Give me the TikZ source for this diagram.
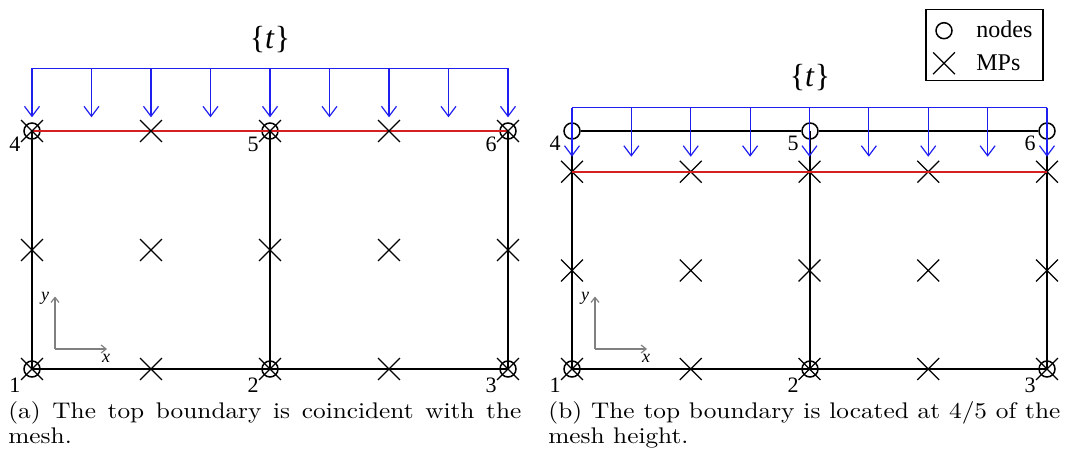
\documentclass[tikz,border=0pt]{standalone}
\usepackage{fontspec}
\usepackage{tikz}
\usepackage{xcolor}
\usetikzlibrary{arrows.meta, positioning, shapes.misc}
\newfontfamily\timesfont{Liberation Serif}
\newfontfamily\capfont{lmroman10-regular.otf}[FakeStretch=1.12]
\definecolor{LoadBlue}{HTML}{1E1EF0}
\definecolor{BoundRed}{HTML}{D42020}
\definecolor{AxisGray}{HTML}{808080}

\begin{document}
\begin{tikzpicture}[
    x=0.5pt, y=-0.5pt,
    meshnode/.style={circle, draw=black, line width=0.75pt, minimum size=8pt, inner sep=0pt},
    mp/.style={cross out, draw=black, line width=0.6pt, minimum size=10.3pt, inner sep=0pt},
    edge/.style={draw=black, line width=0.75pt},
    topline/.style={draw=BoundRed, line width=1.1pt},
    load/.style={draw=LoadBlue, line width=0.6pt},
    loadarrow/.style={load, -{Straight Barb[length=5pt, width=7.5pt]}},
    axis/.style={draw=AxisGray, line width=0.6pt, -{Straight Barb[length=2.5pt, width=4pt]}},
    num/.style={font=\timesfont\fontsize{11}{12}\selectfont, inner sep=0pt},
    axlbl/.style={font=\timesfont\itshape\fontsize{9}{10}\selectfont, inner sep=0pt},
    tlbl/.style={font=\timesfont\fontsize{16}{18}\selectfont, inner sep=0pt},
    legtext/.style={font=\timesfont\fontsize{12}{14}\selectfont, inner sep=0pt, anchor=west},
    caption/.style={font=\capfont\fontsize{11.3}{12.5}\selectfont, text width=256.5pt, align=justify, inner sep=0pt, anchor=north west}
]
\useasboundingbox (0,0) rectangle (1065,460);

% (a)
\node[meshnode] (a1) at (32,369) {};
\node[meshnode] (a2) at (270,369) {};
\node[meshnode] (a3) at (508,369) {};
\node[meshnode] (a4) at (32,131) {};
\node[meshnode] (a5) at (270,131) {};
\node[meshnode] (a6) at (508,131) {};
\draw[edge] (a1.center) -- (a2.center) -- (a3.center) -- (a6.center);
\draw[edge] (a1.center) -- (a4.center);
\draw[edge] (a2.center) -- (a5.center);
\draw[topline] (a4.center) -- (a5.center) -- (a6.center);
\foreach \i in {0,...,4}
  \foreach \j/\y in {1/369,2/250,3/131}
    \node[mp] (amp\i\j) at (32+119*\i,\y) {};
\foreach \i in {0,...,8} {
  \coordinate (at\i) at (32+59.5*\i,68.3);
  \coordinate (ab\i) at (32+59.5*\i,117.3);
  \draw[loadarrow] (at\i) -- (ab\i);
}
\draw[load] (at0) -- (at8);
\node[tlbl] (at) at (270,40) {\{\textit{t}\}};
\node[num] (anum1) at (15,385) {1};
\node[num] (anum2) at (253,385) {2};
\node[num] (anum3) at (491,385) {3};
\node[num] (anum4) at (15,144) {4};
\node[num] (anum5) at (253,144) {5};
\node[num] (anum6) at (491,144) {6};
\coordinate (ao) at (55,349);
\coordinate (ax) at (107,349);
\coordinate (ay) at (55,296.5);
\draw[axis] (ao) -- (ax);
\draw[axis] (ao) -- (ay);
\node[axlbl] (axl) at (106,358) {x};
\node[axlbl] (ayl) at (45,298) {y};
\node[caption] (capa) at (8,401) {(a) The top boundary is coincident with the\linebreak mesh.};

% (b)
\node[meshnode] (b1) at (572,369) {};
\node[meshnode] (b2) at (810,369) {};
\node[meshnode] (b3) at (1047,369) {};
\node[meshnode] (b4) at (572,131) {};
\node[meshnode] (b5) at (810,131) {};
\node[meshnode] (b6) at (1047,131) {};
\draw[edge] (b1.center) -- (b2.center) -- (b3.center) -- (b6.center);
\draw[edge] (b1.center) -- (b4.center);
\draw[edge] (b2.center) -- (b5.center);
\draw[edge] (b4) -- (b5) -- (b6);
\foreach \i in {0,...,4}
  \foreach \j/\y in {1/369,2/270.5,3/171.7}
    \node[mp] (bmp\i\j) at (572+118.75*\i,\y) {};
\draw[topline] (bmp03.center) -- (bmp43.center);
\foreach \i in {0,...,8} {
  \coordinate (bt\i) at (572+59.375*\i,107.7);
  \coordinate (bb\i) at (572+59.375*\i,156.7);
  \draw[loadarrow] (bt\i) -- (bb\i);
}
\draw[load] (bt0) -- (bt8);
\node[tlbl] (bt) at (810,78) {\{\textit{t}\}};
\node[num] (bnum1) at (555,385) {1};
\node[num] (bnum2) at (793,385) {2};
\node[num] (bnum3) at (1030,385) {3};
\node[num] (bnum4) at (555,143) {4};
\node[num] (bnum5) at (793,143) {5};
\node[num] (bnum6) at (1030,143) {6};
\coordinate (bo) at (595,349);
\coordinate (bx) at (647,349);
\coordinate (by) at (595,296.5);
\draw[axis] (bo) -- (bx);
\draw[axis] (bo) -- (by);
\node[axlbl] (bxl) at (646,358) {x};
\node[axlbl] (byl) at (585,298) {y};
\node[caption, text width=256pt] (capb) at (548,401) {(b) The top boundary is located at 4/5 of the\linebreak mesh height.};

% legend
\node[draw=black, line width=0.6pt, minimum width=58.5pt, minimum height=35.7pt, inner sep=0pt] (legend) at (984.5,45) {};
\node[meshnode] (legnode) at (944,30.7) {};
\node[mp] (legmp) at (944,63.3) {};
\node[legtext] (legnodes) at (976,29) {nodes};
\node[legtext] (legmps) at (976,63) {MPs};
\end{tikzpicture}
\end{document}
